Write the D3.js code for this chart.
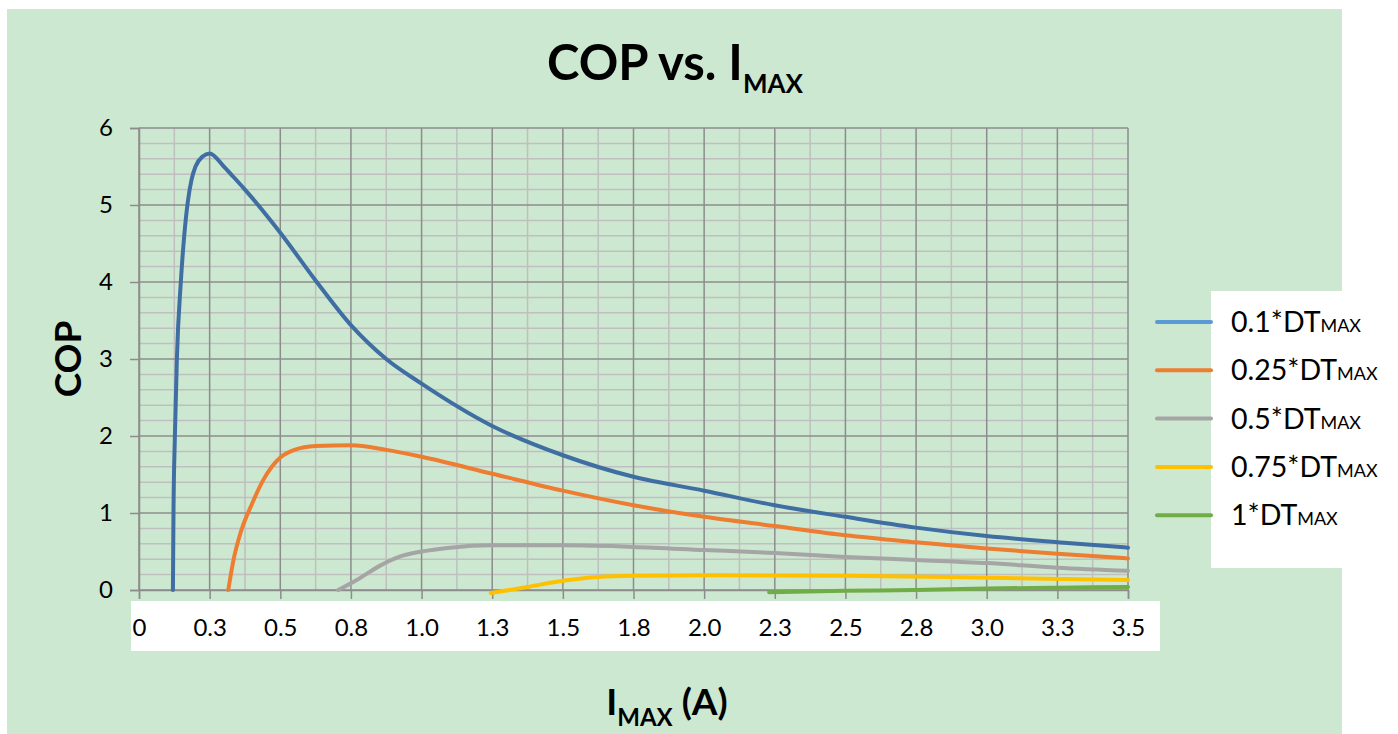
<!DOCTYPE html>
<html>
<head>
<meta charset="utf-8">
<script src="https://cdn.jsdelivr.net/npm/d3@7"></script>
<style>
  body { margin: 0; background: #fff; }
  text { font-family: Lato, "Open Sans", sans-serif; fill: #000; }
</style>
</head>
<body>
<svg id="chart" width="1398" height="734"></svg>
<script>
// series
const seriesNames = ["0.1*DT", "0.25*DT", "0.5*DT", "0.75*DT", "1*DT"];
const lineColors = ["#3f6ea3", "#ed7d31", "#a5a5a5", "#ffc000", "#70ad47"];
const legendColors = ["#5b9bd5", "#ed7d31", "#a5a5a5", "#ffc000", "#70ad47"];

const x01 = [0.12, 0.122, 0.127, 0.134, 0.148, 0.16, 0.173, 0.186, 0.2, 0.225, 0.25, 0.3, 0.333, 0.375, 0.5, 0.625, 0.75, 0.875, 1.0, 1.25, 1.5, 1.75, 2.0, 2.25, 2.5, 2.75, 3.0, 3.25, 3.5];
const y01 = [0, 1.0, 2.0, 3.0, 4.0, 4.6, 5.05, 5.33, 5.5, 5.63, 5.67, 5.5, 5.37, 5.2, 4.64, 4.02, 3.44, 3.0, 2.68, 2.13, 1.75, 1.47, 1.29, 1.10, 0.95, 0.81, 0.70, 0.62, 0.55];

const x025 = [0.316, 0.335, 0.36, 0.4, 0.44, 0.5, 0.55, 0.625, 0.75, 0.875, 1.0, 1.25, 1.5, 1.75, 2.0, 2.25, 2.5, 2.75, 3.0, 3.25, 3.5];
const y025 = [0, 0.4, 0.75, 1.12, 1.43, 1.72, 1.82, 1.87, 1.88, 1.82, 1.73, 1.51, 1.29, 1.10, 0.95, 0.83, 0.71, 0.62, 0.54, 0.47, 0.41];

const x05 = [0.705, 0.78, 0.85, 0.92, 1.0, 1.1, 1.25, 1.5, 1.75, 2.0, 2.25, 2.5, 2.75, 3.0, 3.25, 3.5];
const y05 = [0, 0.15, 0.31, 0.43, 0.50, 0.55, 0.58, 0.58, 0.56, 0.52, 0.48, 0.43, 0.39, 0.35, 0.29, 0.25];

const x075 = [1.245, 1.375, 1.5, 1.625, 1.75, 2.0, 2.5, 3.0, 3.5];
const y075 = [-0.04, 0.04, 0.12, 0.17, 0.185, 0.19, 0.185, 0.16, 0.13];

const x1 = [2.23, 2.5, 2.75, 3.0, 3.25, 3.5];
const y1 = [-0.03, -0.01, 0.0, 0.02, 0.03, 0.04];

const xTickValues = [0, 0.25, 0.5, 0.75, 1.0, 1.25, 1.5, 1.75, 2.0, 2.25, 2.5, 2.75, 3.0, 3.25, 3.5];
const xTickLabels = ["0", "0.3", "0.5", "0.8", "1.0", "1.3", "1.5", "1.8", "2.0", "2.3", "2.5", "2.8", "3.0", "3.3", "3.5"];
const yTickValues = [0, 1, 2, 3, 4, 5, 6];

const allX = [x01, x025, x05, x075, x1];
const allY = [y01, y025, y05, y075, y1];

var svg = d3.select("#chart");

// green chart area
svg.append("rect")
  .attr("x", 7).attr("y", 9)
  .attr("width", 1335).attr("height", 725)
  .attr("fill", "#cde8d0");

var x = d3.scaleLinear().domain([0, 3.5]).range([139, 1128]);
var y = d3.scaleLinear().domain([0, 6]).range([590, 128]);

// minor grid
var grid = svg.append("g");
grid.selectAll(".vminor")
  .data(d3.range(0.125, 3.5, 0.25))
  .enter().append("line")
    .attr("x1", d => x(d)).attr("x2", d => x(d))
    .attr("y1", y(0)).attr("y2", y(6))
    .attr("stroke", "#bfbfbf").attr("stroke-width", 1.5);
grid.selectAll(".hminor")
  .data(d3.range(0, 6, 0.2).filter((d, i) => i % 5 != 0))
  .enter().append("line")
    .attr("x1", x(0)).attr("x2", x(3.5))
    .attr("y1", d => y(d)).attr("y2", d => y(d))
    .attr("stroke", "#bfbfbf").attr("stroke-width", 1.5);

// major grid
grid.selectAll(".vmajor")
  .data(xTickValues)
  .enter().append("line")
    .attr("x1", d => x(d)).attr("x2", d => x(d))
    .attr("y1", y(0)).attr("y2", y(6))
    .attr("stroke", "#8c8c8c").attr("stroke-width", 1.5);
grid.selectAll(".hmajor")
  .data(yTickValues)
  .enter().append("line")
    .attr("x1", x(0)).attr("x2", x(3.5))
    .attr("y1", d => y(d)).attr("y2", d => y(d))
    .attr("stroke", "#8c8c8c").attr("stroke-width", 1.5);

// y axis
var yAxis = svg.append("g")
  .attr("transform", "translate(" + x(0) + ",0)")
  .call(d3.axisLeft(y).tickValues(yTickValues).tickSize(9).tickPadding(17).tickFormat(d3.format("d")));
yAxis.select(".domain").attr("stroke", "#8c8c8c").attr("stroke-width", 1.5);
yAxis.selectAll(".tick line").attr("stroke", "#8c8c8c").attr("stroke-width", 1.5);
yAxis.selectAll(".tick text").attr("font-size", 24).attr("font-family", "Lato").attr("fill", "#000");

// white strip behind x labels
svg.append("rect")
  .attr("x", 131).attr("y", 601)
  .attr("width", 1029).attr("height", 50)
  .attr("fill", "#fff");

// x axis
var xAxis = svg.append("g")
  .attr("transform", "translate(0," + y(0) + ")")
  .call(d3.axisBottom(x).tickValues(xTickValues).tickSize(9).tickPadding(20)
    .tickFormat((d, i) => xTickLabels[i]));
xAxis.select(".domain").attr("stroke", "#8c8c8c").attr("stroke-width", 1.5);
xAxis.selectAll(".tick line").attr("stroke", "#8c8c8c").attr("stroke-width", 1.5);
xAxis.selectAll(".tick text").attr("font-size", 24).attr("font-family", "Lato").attr("fill", "#000");

// curves
var line = d3.line()
  .x(d => x(d[0]))
  .y(d => y(d[1]))
  .curve(d3.curveMonotoneX);

seriesNames.forEach(function(name, i) {
  var pts = allX[i].map((v, j) => [v, allY[i][j]]);
  svg.append("path")
    .datum(pts)
    .attr("d", line)
    .attr("fill", "none")
    .attr("stroke", lineColors[i])
    .attr("stroke-width", 4)
    .attr("stroke-linecap", "round");
});

// title
var title = svg.append("text")
  .attr("x", 675).attr("y", 80)
  .attr("text-anchor", "middle")
  .attr("font-weight", "bold")
  .attr("font-size", 49);
title.append("tspan").text("COP vs. I");
title.append("tspan").attr("font-size", 26).attr("dy", 13).text("MAX");

// axis titles
svg.append("text")
  .attr("transform", "translate(81,359) rotate(-90)")
  .attr("text-anchor", "middle")
  .attr("font-weight", "bold")
  .attr("font-size", 37)
  .text("COP");

var xt = svg.append("text")
  .attr("x", 667).attr("y", 715)
  .attr("text-anchor", "middle")
  .attr("font-weight", "bold")
  .attr("font-size", 37);
xt.append("tspan").text("I");
xt.append("tspan").attr("font-size", 24).attr("dy", 11).text("MAX");
xt.append("tspan").attr("dy", -11).text(" (A)");

// legend
svg.append("rect")
  .attr("x", 1211).attr("y", 291)
  .attr("width", 131).attr("height", 277)
  .attr("fill", "#fff");

var legend = svg.append("g");
seriesNames.forEach(function(name, i) {
  var cy = 322 + i * 48.3;
  legend.append("line")
    .attr("x1", 1157).attr("x2", 1211)
    .attr("y1", cy).attr("y2", cy)
    .attr("stroke", legendColors[i])
    .attr("stroke-width", 4)
    .attr("stroke-linecap", "round");
  var t = legend.append("text")
    .attr("x", 1231).attr("y", cy + 10)
    .attr("font-size", 28.5);
  t.append("tspan").text(name);
  t.append("tspan").attr("font-size", 18).text("MAX");
});
</script>
</body>
</html>
